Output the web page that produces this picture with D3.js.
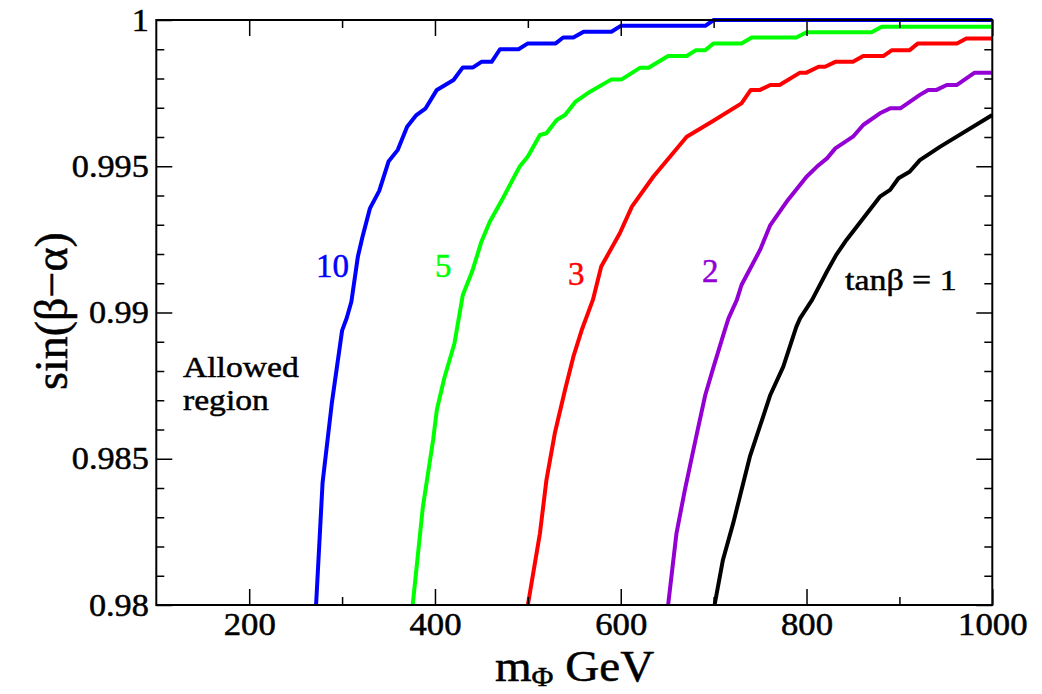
<!DOCTYPE html>
<html>
<head>
<meta charset="utf-8">
<script src="https://cdn.jsdelivr.net/npm/d3@7"></script>
<style>
  html, body { margin: 0; padding: 0; background: #fff; }
  svg { display: block; }
  text { font-family: "Liberation Serif", "Times New Roman", Times, serif; fill: #000; }
</style>
</head>
<body>
<svg id="chart" width="1042" height="694"></svg>
<script>
// Upper bound on sin(beta - alpha) versus the heavy scalar mass, for several tan(beta)

// tan(beta) = 10
const mass10 = [272, 279, 289, 300, 305, 310, 317, 322, 330, 340, 350, 360, 370, 380, 390, 402, 420, 430, 441, 450, 461, 470, 490, 500, 513, 530, 538, 549, 560, 590, 600, 691, 700, 1000];
const sba10  = [0.98, 0.98418, 0.98691, 0.98938, 0.98981, 0.99037, 0.99191, 0.99259, 0.99356, 0.99416, 0.99516, 0.99556, 0.99635, 0.99675, 0.99698, 0.99761, 0.99795, 0.99838, 0.99838, 0.99857, 0.99857, 0.9990, 0.9990, 0.9992, 0.9992, 0.9992, 0.9994, 0.9994, 0.9996, 0.9996, 0.9998, 0.9998, 1.0, 1.0];

// tan(beta) = 5
const mass5 = [376, 387, 398, 402, 410, 421, 430, 440, 450, 459, 473, 491, 500, 513, 520, 531, 540, 551, 567, 590, 601, 621, 630, 651, 671, 681, 691, 700, 730, 741, 789, 800, 870, 881, 1000];
const sba5  = [0.98, 0.98336, 0.98564, 0.98667, 0.98775, 0.98895, 0.9906, 0.9914, 0.99242, 0.9931, 0.9939, 0.99498, 0.99533, 0.99607, 0.99613, 0.99658, 0.99675, 0.9972, 0.99755, 0.99797, 0.99797, 0.99837, 0.99837, 0.99877, 0.99877, 0.99897, 0.99897, 0.9992, 0.9992, 0.9994, 0.9994, 0.99958, 0.99958, 0.99977, 0.99977];

// tan(beta) = 3
const mass3 = [500, 513, 520, 529, 540, 549, 558, 570, 579, 599, 612, 635, 671, 698, 730, 740, 750, 761, 771, 793, 800, 813, 820, 831, 850, 861, 883, 892, 911, 920, 962, 972, 1000];
const sba3  = [0.98, 0.98245, 0.98427, 0.98587, 0.98735, 0.98849, 0.9894, 0.99043, 0.99157, 0.99271, 0.99362, 0.99464, 0.99601, 0.99652, 0.99715, 0.99761, 0.99761, 0.99778, 0.99778, 0.9982, 0.9982, 0.9984, 0.9984, 0.99857, 0.99857, 0.99877, 0.99877, 0.99897, 0.99897, 0.9992, 0.9992, 0.99937, 0.99937];

// tan(beta) = 2
const mass2 = [651, 660, 669, 682, 691, 700, 712, 716, 725, 730, 750, 761, 780, 800, 811, 822, 831, 850, 861, 879, 890, 901, 922, 931, 940, 951, 962, 981, 1000];
const sba2  = [0.98, 0.98245, 0.98393, 0.98587, 0.98718, 0.98815, 0.9894, 0.9898, 0.99043, 0.99094, 0.99214, 0.99299, 0.99385, 0.99464, 0.99498, 0.99527, 0.99561, 0.99601, 0.99641, 0.99681, 0.99698, 0.99698, 0.99744, 0.99761, 0.99761, 0.99778, 0.99778, 0.9982, 0.9982];

// tan(beta) = 1
const mass1 = [701, 710, 721, 739, 761, 775, 789, 793, 806, 822, 832, 843, 879, 890, 899, 911, 922, 944, 1000];
const sba1  = [0.98, 0.98154, 0.98279, 0.98507, 0.98718, 0.98815, 0.98951, 0.9898, 0.99043, 0.9914, 0.99197, 0.99248, 0.99396, 0.99419, 0.99459, 0.99481, 0.99521, 0.99567, 0.99675];

const seriesNames  = ["10", "5", "3", "2", "tanβ = 1"];
const seriesColors = ["#0000ff", "#00ff00", "#ff0000", "#9400d3", "#000000"];

const xMajorTicks = [200, 400, 600, 800, 1000];
const xMinorTicks = [300, 500, 700, 900];
const yMajorTicks = [0.98, 0.985, 0.99, 0.995, 1];
const yMajorLabels = ["0.98", "0.985", "0.99", "0.995", "1"];
const yMinorTicks = [0.981, 0.982, 0.983, 0.984, 0.986, 0.987, 0.988, 0.989, 0.991, 0.992, 0.993, 0.994, 0.996, 0.997, 0.998, 0.999];

const series = [
  { mass: mass10, sba: sba10 },
  { mass: mass5,  sba: sba5 },
  { mass: mass3,  sba: sba3 },
  { mass: mass2,  sba: sba2 },
  { mass: mass1,  sba: sba1 }
];

const svg = d3.select("#chart");
const plotL = 156.3, plotR = 992.3, plotT = 20, plotB = 605;

const x = d3.scaleLinear().domain([100, 1000]).range([plotL, plotR]);
const y = d3.scaleLinear().domain([0.98, 1]).range([plotB, plotT]);

// curves
const line = d3.line().x(d => x(d[0])).y(d => y(d[1]));
series.forEach((s, i) => {
  svg.append("path")
    .datum(s.mass.map((m, k) => [m, s.sba[k]]))
    .attr("d", line)
    .attr("fill", "none")
    .attr("stroke", seriesColors[i])
    .attr("stroke-width", 4)
    .attr("stroke-linejoin", "round");
});

// frame
svg.append("rect")
  .attr("x", plotL).attr("y", plotT)
  .attr("width", plotR - plotL).attr("height", plotB - plotT)
  .attr("fill", "none").attr("stroke", "#000").attr("stroke-width", 2);

const MAJ = 16, MIN = 8;

function styleAxis(g) {
  g.select(".domain").remove();
  g.selectAll(".tick line").attr("stroke", "#000").attr("stroke-width", 1.5);
}

// slightly heavier glyphs for all text
function heavy(sel, color) {
  sel.style("stroke", color || "#000").style("stroke-width", 0.5);
}

// bottom axis: labelled majors + minors, ticks pointing inward
const gx = svg.append("g").attr("transform", `translate(0,${plotB})`)
  .call(d3.axisBottom(x).tickValues(xMajorTicks).tickSize(-MAJ).tickPadding(8).tickFormat(d3.format("d")))
  .call(styleAxis);
gx.selectAll(".tick text")
  .attr("font-size", 31)
  .attr("transform", "scale(1.12,1)")
  .call(heavy);
svg.append("g").attr("transform", `translate(0,${plotB})`)
  .call(d3.axisBottom(x).tickValues(xMinorTicks).tickSize(-MIN).tickFormat(""))
  .call(styleAxis);

// top axis ticks
svg.append("g").attr("transform", `translate(0,${plotT})`)
  .call(d3.axisTop(x).tickValues(xMajorTicks).tickSize(-MAJ).tickFormat(""))
  .call(styleAxis);
svg.append("g").attr("transform", `translate(0,${plotT})`)
  .call(d3.axisTop(x).tickValues(xMinorTicks).tickSize(-MIN).tickFormat(""))
  .call(styleAxis);

// left axis
const gy = svg.append("g").attr("transform", `translate(${plotL},0)`)
  .call(d3.axisLeft(y).tickValues(yMajorTicks).tickSize(-MAJ).tickPadding(7)
        .tickFormat((d, i) => yMajorLabels[i]))
  .call(styleAxis);
gy.selectAll(".tick text")
  .attr("font-size", 32)
  .attr("transform", "scale(1.07,1)")
  .call(heavy);
svg.append("g").attr("transform", `translate(${plotL},0)`)
  .call(d3.axisLeft(y).tickValues(yMinorTicks).tickSize(-MIN).tickFormat(""))
  .call(styleAxis);

// right axis ticks
svg.append("g").attr("transform", `translate(${plotR},0)`)
  .call(d3.axisRight(y).tickValues(yMajorTicks).tickSize(-MAJ).tickFormat(""))
  .call(styleAxis);
svg.append("g").attr("transform", `translate(${plotR},0)`)
  .call(d3.axisRight(y).tickValues(yMinorTicks).tickSize(-MIN).tickFormat(""))
  .call(styleAxis);

// helper for stretched text
function label(str, px, py, size, sx, color, anchor) {
  return svg.append("text")
    .attr("transform", `translate(${px},${py}) scale(${sx},1)`)
    .attr("font-size", size)
    .attr("text-anchor", anchor || "start")
    .style("fill", color || "#000")
    .call(heavy, color)
    .text(str);
}

// curve labels
const labelPos = [[316, 277, 33, 1.0], [435, 277, 33, 1.0], [568, 285, 33, 1.0], [702, 282, 33, 1.0], [845, 290, 30, 1.13]];
seriesNames.forEach((n, i) => {
  const p = labelPos[i];
  label(n, p[0], p[1], p[2], p[3], seriesColors[i]);
});

// region annotation
label("Allowed", 183, 377, 30, 1.12);
label("region", 183, 410, 30, 1.12);

// y axis title
svg.append("text")
  .attr("transform", "translate(67,311) rotate(-90)")
  .attr("text-anchor", "middle")
  .attr("font-size", 46)
  .call(heavy)
  .text("sin(β−α)");

// x axis title with subscript
const xt = svg.append("text")
  .attr("transform", "translate(495,681) scale(1.07,1)")
  .attr("font-size", 44)
  .call(heavy);
xt.append("tspan").text("m");
xt.append("tspan").attr("font-size", 28).attr("dy", 5).text("Φ");
xt.append("tspan").attr("dy", -5).text(" GeV");
</script>
</body>
</html>
